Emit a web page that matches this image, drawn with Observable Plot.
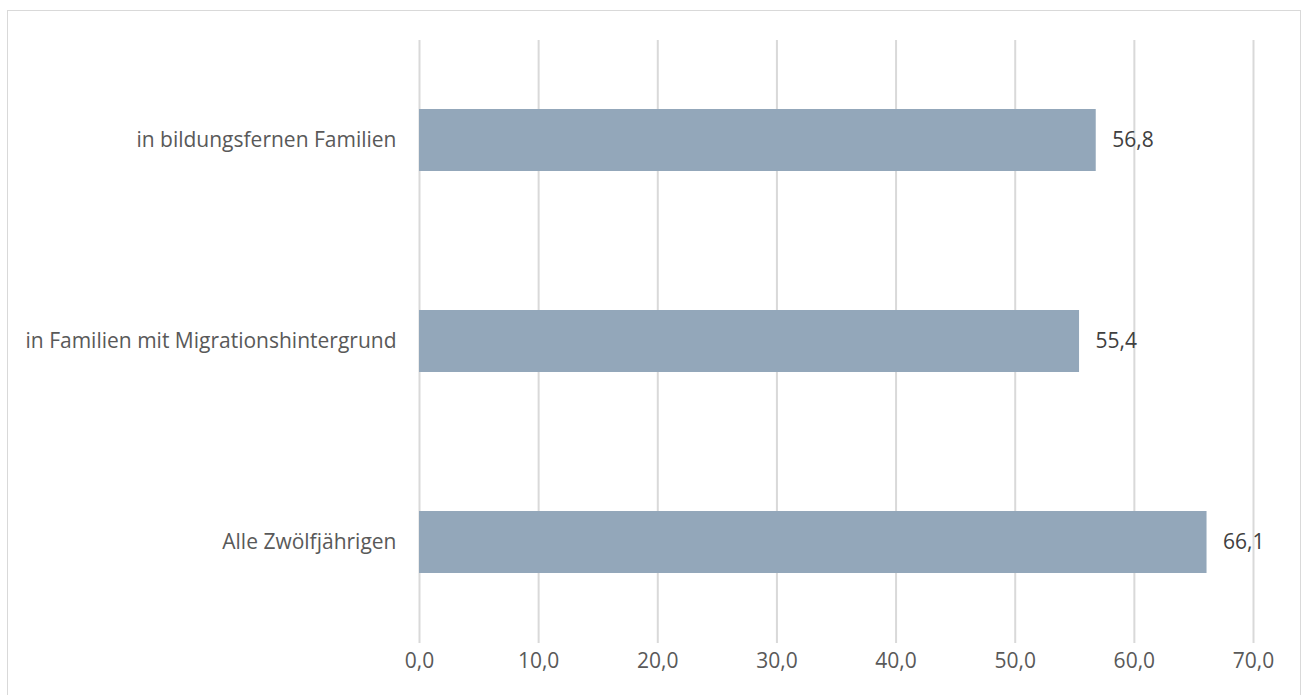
<!DOCTYPE html>
<html>
<head>
<meta charset="utf-8">
<script src="https://cdn.jsdelivr.net/npm/d3@7"></script>
<script src="https://cdn.jsdelivr.net/npm/@observablehq/plot@0.6"></script>
<style>
  html, body { margin: 0; padding: 0; background: #fff; }
  #wrap { position: relative; width: 1303px; height: 695px; overflow: hidden; }
  #frame { position: absolute; left: 7px; top: 10px; width: 1294px; height: 700px; border: 1px solid #d9d9d9; box-sizing: border-box; }
  #chart { position: absolute; left: 0; top: 0; }
</style>
</head>
<body>
<div id="wrap"><div id="frame"></div><div id="chart"></div></div>
<script>
const categories = ["in bildungsfernen Familien", "in Familien mit Migrationshintergrund", "Alle Zwölfjährigen"];
const values = [56.8, 55.4, 66.1];
const xTicks = [0, 10, 20, 30, 40, 50, 60, 70];

const data = categories.map((c, i) => ({category: c, value: values[i]}));
const fmt = d => d.toFixed(1).replace(".", ",");

const chart = Plot.plot({
  width: 1303,
  height: 695,
  marginLeft: 419,
  marginRight: 50,
  marginTop: 40,
  marginBottom: 52,
  style: {fontFamily: "'Open Sans', sans-serif", fontSize: "21px", color: "#595959", background: "transparent"},
  x: {domain: [0, 70], ticks: xTicks, tickFormat: fmt, tickSize: 0, tickPadding: 13, label: null},
  y: {domain: categories, paddingInner: 0.69, paddingOuter: 0.345, tickSize: 0, tickPadding: 23, label: null},
  marks: [
    Plot.gridX(xTicks, {stroke: "#d9d9d9", strokeOpacity: 1, strokeWidth: 2}),
    Plot.barX(data, {x: "value", y: "category", fill: "#93a7ba"}),
    Plot.text(data, {x: "value", y: "category", text: d => fmt(d.value), textAnchor: "start", dx: 16, fill: "#404040", fontSize: 21}),
    Plot.axisX({ticks: xTicks, tickFormat: fmt, tickSize: 0, tickPadding: 10, fill: "#595959", fontSize: 21, label: null}),
    Plot.axisY({tickSize: 0, tickPadding: 23, fill: "#595959", fontSize: 21, label: null})
  ]
});
document.getElementById("chart").appendChild(chart);
</script>
</body>
</html>
